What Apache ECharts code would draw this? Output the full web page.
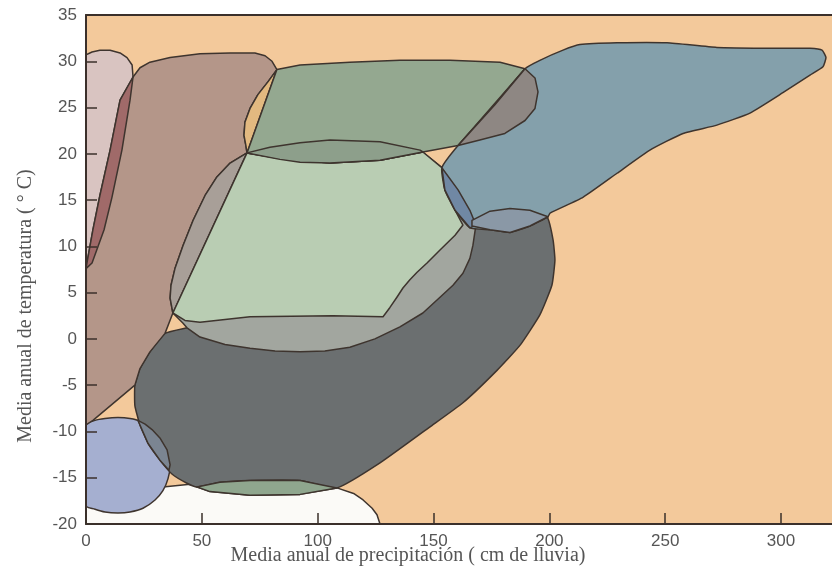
<!DOCTYPE html>
<html>
<head>
<meta charset="utf-8">
<script src="https://cdn.jsdelivr.net/npm/echarts@6/dist/echarts.min.js"></script>
<style>
html, body { margin: 0; padding: 0; background: #fff; }
#chart { width: 832px; height: 573px; }
</style>
</head>
<body>
<div id="chart"></div>
<script>
// biome outlines, [precipitacion cm, temperatura C]
var tundra = [[0,-17.4],[6.0,-18.1],[19.0,-17.1],[33.2,-16.0],[44.9,-15.7],[53.5,-16.5],[70.8,-16.9],[92.4,-16.8],[108.3,-16.1],[115.5,-16.7],[119.6,-17.4],[123.5,-18.3],[125.6,-19.0],[126.9,-20],[0,-20]];
var circle = [[0,-9.3],[3.9,-8.8],[8.2,-8.6],[13.8,-8.5],[19.0,-8.6],[23.3,-8.9],[27.6,-9.7],[31.9,-10.7],[35.0,-12.0],[36.3,-13.6],[35.4,-15.1],[33.2,-16.4],[29.8,-17.4],[24.6,-18.3],[19.0,-18.7],[13.8,-18.8],[8.2,-18.7],[3.9,-18.4],[0,-18.0]];
var boreal = [[43.6,1.2],[62.2,2.2],[92.4,4.2],[126.9,7.4],[152.8,10.7],[166.6,13.1],[174.4,13.8],[183.0,14.1],[191.6,13.9],[199.0,13.2],[201.6,10.7],[202.4,8.5],[201.1,5.8],[195.9,2.6],[187.3,-0.7],[177.4,-3.4],[162.7,-6.9],[148.5,-9.5],[126.9,-13.4],[108.3,-16.1],[92.4,-15.3],[70.8,-15.3],[57.8,-15.5],[47.9,-16.0],[43.6,-15.6],[37.1,-14.6],[31.9,-13.1],[26.8,-11.3],[23.3,-9.3],[21.1,-7.2],[21.1,-5.0],[23.3,-3.2],[27.6,-1.4],[34.1,0.6]];
var circleLens = [[22.4,-8.8],[25.5,-9.2],[28.5,-9.8],[31.9,-10.7],[35.0,-12.0],[36.3,-13.6],[35.8,-14.2],[31.9,-13.1],[26.8,-11.3],[23.3,-9.3]];
var greenStrip = [[47.9,-16.0],[57.8,-15.5],[70.8,-15.3],[92.4,-15.3],[108.3,-16.1],[92.4,-16.8],[70.8,-16.9],[53.5,-16.5]];
var pink = [[0,7.6],[0,30.7],[2.6,31.0],[6.0,31.2],[10.4,31.2],[14.7,30.9],[17.7,30.4],[19.9,29.6],[20.3,28.3],[19.0,25.8],[15.5,20.4],[11.2,15.3],[7.8,11.8],[2.6,8.2]];
var brown = [[0,7.6],[0.4,8.2],[3.0,11.8],[6.0,15.5],[10.4,20.4],[14.7,25.8],[20.3,28.3],[23.3,29.3],[27.6,29.9],[36.3,30.4],[49.2,30.8],[62.2,30.9],[72.9,30.9],[77.3,30.6],[80.3,30.0],[82.4,29.1],[78.6,27.8],[74.2,26.4],[70.8,24.9],[68.6,23.4],[68.2,22.0],[69.0,20.9],[69.5,20.1],[37.5,2.8],[34.1,0.6],[27.6,-1.4],[23.3,-3.2],[21.1,-5.0],[3.0,-8.8],[0,-9.3]];
var strip = [[20.3,28.3],[14.7,25.8],[10.4,20.4],[6.0,15.5],[3.0,11.8],[0.4,8.2],[0,7.6],[2.6,8.2],[7.8,11.8],[11.2,15.3],[15.5,20.4],[19.0,25.8]];
var orangeLens = [[82.4,29.1],[78.6,27.8],[74.2,26.4],[70.8,24.9],[68.6,23.4],[68.2,22.0],[69.0,20.9],[69.5,20.1]];
var ellipse = [[69.5,20.1],[62.2,19.0],[56.5,17.5],[51.4,15.5],[46.2,12.8],[41.9,10.1],[38.4,7.6],[36.7,5.8],[36.3,4.4],[37.5,2.8],[41.9,1.7],[43.6,1.2],[49.2,0.2],[60.0,-0.6],[70.8,-1.0],[81.6,-1.3],[92.4,-1.4],[103.1,-1.3],[113.9,-0.9],[124.7,0.0],[135.5,1.3],[145.4,2.8],[152.8,4.5],[158.4,5.8],[162.7,7.1],[165.7,8.7],[167.0,10.1],[168.3,12.3],[165.7,13.9],[160.6,16.1],[153.6,18.5],[144.2,20.4],[122.6,21.4],[105.3,21.5],[88.0,21.2],[79.4,20.7]];
var brownLens = [[69.5,20.1],[62.2,19.0],[56.5,17.5],[51.4,15.5],[46.2,12.8],[41.9,10.1],[38.4,7.6],[36.7,5.8],[36.3,4.4],[37.5,2.8]];
var lightGreen = [[69.5,20.1],[83.7,19.5],[105.3,19.0],[126.9,19.3],[145.4,20.2],[153.6,18.5],[154.9,16.1],[159.3,13.9],[162.7,12.3],[159.3,11.2],[152.8,9.6],[147.2,8.2],[142.9,7.2],[139.8,6.4],[136.8,5.5],[134.2,4.5],[131.2,3.4],[128.2,2.4],[106.6,2.5],[70.8,2.4],[49.2,1.8],[42.7,2.0],[37.5,2.8]];
var greenTop = [[82.4,29.1],[92.4,29.6],[113.9,29.9],[135.5,30.1],[157.1,30.1],[178.7,29.9],[189.5,29.2],[160.6,20.9],[145.4,20.2],[126.9,19.3],[105.3,19.0],[83.7,19.5],[69.5,20.1]];
var topLens = [[69.5,20.1],[79.4,20.7],[92.4,21.2],[105.3,21.5],[126.9,21.3],[144.2,20.4],[145.4,20.2],[126.9,19.3],[105.3,19.0],[92.4,19.1],[83.7,19.4]];
var rainforest = [[153.6,18.5],[160.6,20.9],[176.5,25.3],[189.5,29.2],[195.9,30.1],[205.9,31.2],[213.2,31.8],[229.2,32.0],[250.8,32.0],[272.3,31.5],[300.8,31.4],[312.5,31.4],[317.7,31.2],[319.4,30.4],[318.1,29.4],[312.5,28.5],[300.8,26.6],[286.6,24.4],[272.3,23.1],[257.7,22.2],[243.4,20.4],[229.2,17.9],[214.5,15.3],[200.3,13.6],[199.4,13.2],[191.6,12.2],[183.0,11.5],[174.4,11.8],[165.7,12.0],[159.3,13.9],[154.9,16.1]];
var mauveLens = [[189.5,29.2],[193.8,28.2],[195.1,26.7],[193.8,24.9],[189.5,23.6],[180.8,22.2],[170.0,21.5],[160.6,20.9],[176.5,25.3]];
var darkBlueLens = [[153.6,18.5],[160.6,16.1],[165.7,13.9],[168.3,12.3],[165.7,12.0],[159.3,13.9],[154.9,16.1]];
var blueGreyLens = [[166.6,12.8],[174.4,13.8],[183.0,14.1],[191.6,13.9],[199.4,13.2],[191.6,12.2],[183.0,11.5],[174.4,11.8],[166.6,12.2]];

var xTicks = [0, 50, 100, 150, 200, 250, 300];
var yTicks = [-20, -15, -10, -5, 0, 5, 10, 15, 20, 25, 30, 35];

// draw order, fill, smoothing
var layers = [
	[tundra, '#FBFAF7', 0],
	[circle, '#A5AFD0', 0.3],
	[boreal, '#6B6F70', 0.15],
	[circleLens, '#7B8592', 0],
	[greenStrip, '#8FA68E', 0],
	[pink, '#D9C4C1', 0],
	[brown, '#B49689', 0],
	[strip, '#A06A69', 0],
	[orangeLens, '#E2B980', 0],
	[ellipse, '#A2A69F', 0],
	[brownLens, '#A89F98', 0],
	[lightGreen, '#B9CDB3', 0],
	[greenTop, '#94A890', 0],
	[topLens, '#8D9F8B', 0],
	[rainforest, '#84A0AB', 0.15],
	[mauveLens, '#8E8783', 0],
	[darkBlueLens, '#7088A4', 0],
	[blueGreyLens, '#8A98A6', 0]
];

var chart = echarts.init(document.getElementById('chart'), null, {renderer: 'canvas'});

var series = layers.map(function(l) {
	var pts = l[0];
	return {
		type: 'custom',
		coordinateSystem: 'cartesian2d',
		clip: true,
		silent: true,
		data: [pts[0]],
		renderItem: function(params, api) {
			return {
				type: 'polygon',
				shape: { points: pts.map(function(p) { return api.coord(p); }), smooth: l[2] },
				style: { fill: l[1], stroke: '#3E342E', lineWidth: 1.5, lineJoin: 'round' }
			};
		}
	};
});

var axisColor = '#3B302B';
var labelStyle = { color: '#555', fontSize: 17, fontFamily: 'Liberation Sans' };

var option = {
	animation: false,
	backgroundColor: '#fff',
	grid: { left: 86, right: 0, top: 15, bottom: 49, show: true, backgroundColor: '#F3C99B', borderWidth: 0 },
	xAxis: [{
		type: 'value', min: 0, max: 322, interval: 50, z: 10,
		axisLine: { onZero: false, lineStyle: { color: axisColor, width: 2 } },
		axisTick: { inside: true, length: 11, lineStyle: { color: axisColor, width: 1.5 } },
		axisLabel: Object.assign({ margin: 9, showMaxLabel: false,
			formatter: function(v) { return xTicks.indexOf(v) >= 0 ? v : ''; } }, labelStyle),
		splitLine: { show: false }
	}, {
		type: 'value', position: 'top', min: 0, max: 322, z: 10,
		axisLine: { show: true, onZero: false, lineStyle: { color: axisColor, width: 2 } },
		axisTick: { show: false }, axisLabel: { show: false }, splitLine: { show: false }
	}],
	yAxis: {
		type: 'value', min: -20, max: 35, interval: 5, z: 10,
		axisLine: { onZero: false, lineStyle: { color: axisColor, width: 2 } },
		axisTick: { inside: true, length: 11, lineStyle: { color: axisColor, width: 1.5 } },
		axisLabel: Object.assign({ margin: 9,
			formatter: function(v) { return yTicks.indexOf(v) >= 0 ? v : ''; } }, labelStyle),
		splitLine: { show: false }
	},
	graphic: [{
		type: 'text', x: 26, y: 306, rotation: Math.PI / 2, z: 20,
		style: { text: 'Media anual de temperatura ( ° C)', fill: '#555',
			font: "20px 'Liberation Serif'", align: 'center', verticalAlign: 'middle' }
	}, {
		type: 'text', x: 408, y: 556, z: 20,
		style: { text: 'Media anual de precipitación ( cm de lluvia)', fill: '#555',
			font: "20px 'Liberation Serif'", align: 'center', verticalAlign: 'middle' }
	}],
	series: series
};
chart.setOption(option);
</script>
</body>
</html>
